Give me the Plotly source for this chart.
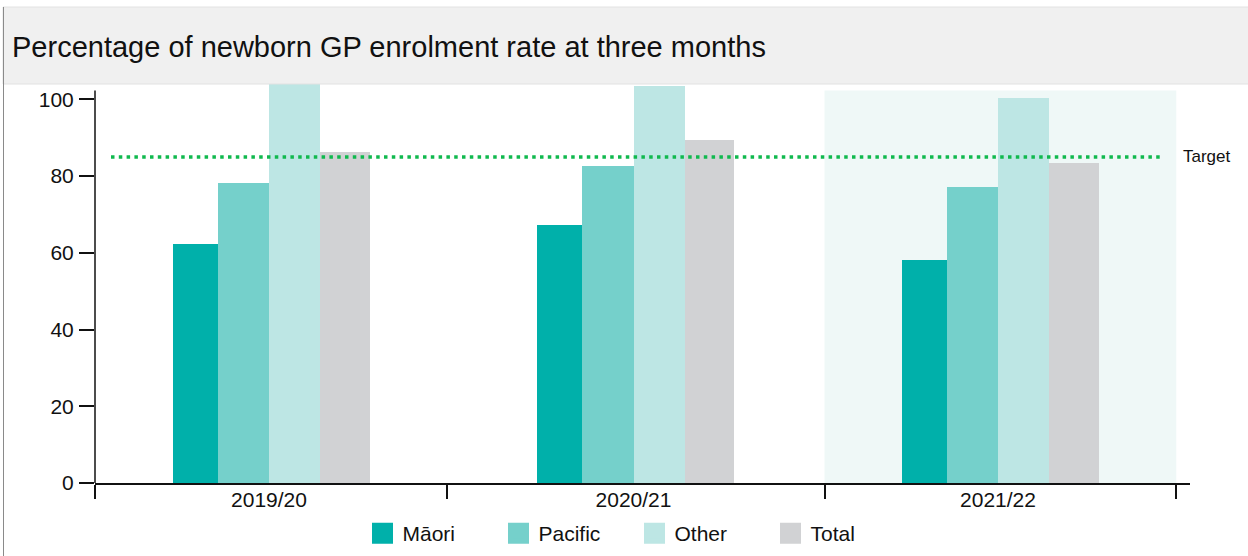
import plotly.graph_objects as go

# ---- data ----
categories = ["2019/20", "2020/21", "2021/22"]
series_names = ["Māori", "Pacific", "Other", "Total"]
maori = [62.4, 67.3, 58.2]
pacific = [78.3, 82.5, 77.2]
other = [106.0, 103.6, 100.4]
total = [86.4, 89.5, 83.5]
target_value = 85
target_label = "Target"
y_ticks = [0, 20, 40, 60, 80, 100]
title_text = "Percentage of newborn GP enrolment rate at three months"
highlight_category = "2021/22"

# ---- style ----
colors = ["#00b0aa", "#75d0cb", "#bde6e4", "#d1d2d4"]
bar_offsets = [-0.264, -0.140, 0.0, 0.140]
bar_widths = [0.124, 0.140, 0.140, 0.137]
FONT = "Liberation Sans, Arial, Helvetica, sans-serif"

W, H = 1248, 556
ML, MR, MT, MB = 95, 58, 84, 73
PW, PH = W - ML - MR, H - MT - MB
Y_TOP = 104.0        # plot area top (under title band)
Y_AXIS_TOP = 102.3   # where the drawn axis line / highlight band stop


def fx(px):
    return (px - ML) / PW


def fy(py):
    return 1 - (py - MT) / PH


xpos = list(range(len(categories)))
series = [maori, pacific, other, total]

fig = go.Figure()
for name, vals, col, off, wid in zip(series_names, series, colors, bar_offsets, bar_widths):
    fig.add_trace(go.Bar(
        x=xpos, y=vals, name=name, marker=dict(color=col, line=dict(width=0)),
        offset=off, width=wid, showlegend=False,
        hovertemplate=name + " %{y}<extra></extra>",
    ))

# legend entries with larger swatches
for name, col in zip(series_names, colors):
    fig.add_trace(go.Scatter(
        x=[None], y=[None], mode="markers", name=name,
        marker=dict(symbol="square", size=16, color=col, line=dict(color=col, width=5)),
        showlegend=True, hoverinfo="skip",
    ))

hi = categories.index(highlight_category)
shapes = [
    # highlighted period band
    dict(type="rect", xref="x", yref="y", x0=hi - 0.476, x1=hi + 0.489,
         y0=0, y1=Y_AXIS_TOP, fillcolor="#eff8f7", line=dict(width=0), layer="below"),
    # y axis line
    dict(type="line", xref="paper", yref="y", x0=0, x1=0, y0=0, y1=Y_AXIS_TOP,
         line=dict(color="#111", width=1.5), layer="above"),
    # target line
    dict(type="line", xref="x domain", yref="y", x0=fx(111), x1=fx(1162),
         y0=target_value, y1=target_value,
         line=dict(color="#10b94e", width=3.5, dash="3.5px,4.3px"), layer="above"),
    # title band
    dict(type="rect", xref="paper", yref="paper", x0=fx(3), x1=fx(1249),
         y0=fy(84), y1=fy(7), fillcolor="#f0f0f0",
         line=dict(color="#e2e2e2", width=1), layer="above"),
    # left frame line
    dict(type="line", xref="paper", yref="paper", x0=fx(3.5), x1=fx(3.5),
         y0=fy(7), y1=fy(557), line=dict(color="#8a8a8a", width=1), layer="above"),
]

annotations = [
    dict(text=target_label, xref="paper", yref="y", x=fx(1181), y=target_value,
         xanchor="left", yanchor="middle", showarrow=False,
         font=dict(family="Liberation Sans Narrow, Arial Narrow, " + FONT, size=17, color="#111")),
]

fig.update_layout(
    width=W, height=H,
    margin=dict(l=ML, r=MR, t=MT, b=MB, pad=0, autoexpand=False),
    paper_bgcolor="white", plot_bgcolor="rgba(0,0,0,0)",
    font=dict(family=FONT, size=21, color="#111"),
    title=dict(text=title_text, xref="container", yref="container",
               x=12 / W, xanchor="left", y=1 - 47 / H, yanchor="middle",
               font=dict(family=FONT, size=29, color="#111")),
    barmode="overlay",
    bargap=0,
    showlegend=True,
    legend=dict(orientation="h", xref="container", yref="container",
                x=362.5 / W, xanchor="left", y=1 - 533.5 / H, yanchor="middle",
                font=dict(family=FONT, size=21, color="#111"),
                entrywidth=91, entrywidthmode="pixels",
                bgcolor="rgba(0,0,0,0)", borderwidth=0, traceorder="normal"),
    xaxis=dict(
        range=[-0.4774, 2.5267], tickmode="array", tickvals=xpos, ticktext=categories,
        ticks="", showline=True, linecolor="#111", linewidth=1.5, showgrid=False,
        zeroline=False, fixedrange=True, ticklabelstandoff=-3,
        tickfont=dict(family=FONT, size=21, color="#111"),
        minor=dict(tickmode="array", tickvals=[-0.477, 0.4871, 1.5254, 2.4875],
                   ticks="outside", ticklen=14, tickwidth=1.5, tickcolor="#111", showgrid=False),
    ),
    yaxis=dict(
        range=[0, Y_TOP], tickmode="array", tickvals=y_ticks,
        ticks="outside", ticklen=15, tickwidth=1.5, tickcolor="#111",
        showline=False, showgrid=False,
        zeroline=False, fixedrange=True, ticklabelstandoff=1,
        tickfont=dict(family=FONT, size=21, color="#111"),
    ),
    shapes=shapes,
    annotations=annotations,
)

fig.write_html("out.html")
